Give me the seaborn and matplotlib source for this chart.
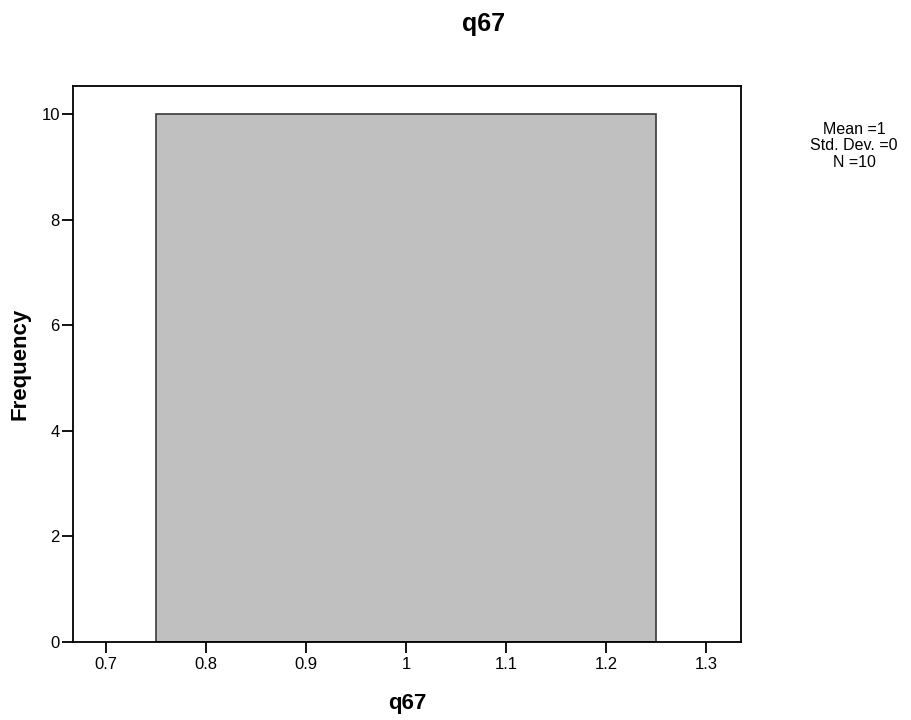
import matplotlib
matplotlib.use("Agg")
import matplotlib.pyplot as plt
import seaborn as sns
import pandas as pd

q67_values = [1, 1, 1, 1, 1, 1, 1, 1, 1, 1]
bin_edges = [0.75, 1.25]
x_ticks = [0.7, 0.8, 0.9, 1.0, 1.1, 1.2, 1.3]
x_tick_labels = ["0.7", "0.8", "0.9", "1", "1.1", "1.2", "1.3"]
y_ticks = [0, 2, 4, 6, 8, 10]
stats_text = "Mean =1\nStd. Dev. =0\nN =10"

sns.set_theme(style="white")
plt.rcParams['font.family'] = ['Liberation Sans', 'DejaVu Sans']
plt.rcParams['text.color'] = 'black'
plt.rcParams['axes.labelcolor'] = 'black'

df = pd.DataFrame({"q67": q67_values})

fig = plt.figure(figsize=(9.11, 7.2), dpi=100)
ax = fig.add_axes([73/911, 1-642/720, (741-73)/911, (642-86)/720])

sns.histplot(data=df, x="q67", bins=bin_edges, ax=ax, color="#C0C0C0",
             edgecolor="#3a3a3a", linewidth=1.2, alpha=1.0)

ax.set_xlim(0.667, 1.335)
ax.set_ylim(0, 10.53)
ax.set_xticks(x_ticks)
ax.set_xticklabels(x_tick_labels)
ax.set_yticks(y_ticks)
ax.tick_params(axis="both", direction="out", length=8, width=1.3, color="black",
               labelsize=12, labelcolor="black", bottom=True, left=True)
ax.tick_params(axis="x", pad=3)
ax.tick_params(axis="y", pad=1.5)
for s in ax.spines.values():
    s.set_color("black")
    s.set_linewidth(1.3)

ax.set_xlabel("q67", fontsize=16, fontweight="bold", labelpad=15)
ax.set_ylabel("Frequency", fontsize=16, fontweight="bold", labelpad=8)
fig.text(484/911, 1-31/720, "q67", fontsize=18, fontweight="bold",
         ha="center", va="baseline")
fig.text(854/911, 1-146/720, stats_text, fontsize=11.5, ha="center", va="center",
         linespacing=1.1)

fig.savefig("out.png", dpi=100)
